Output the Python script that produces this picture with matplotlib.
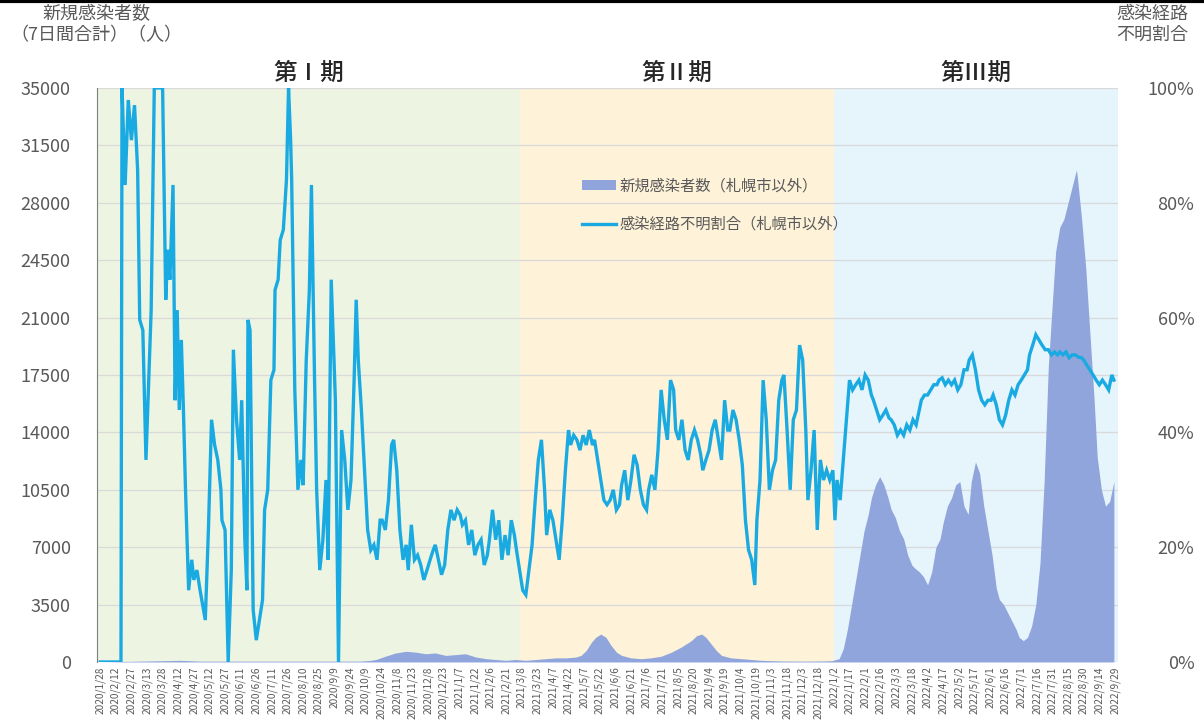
import numpy as np
import matplotlib.pyplot as plt
from matplotlib.lines import Line2D
from matplotlib.patches import Patch

plt.rcParams['font.family'] = ['Noto Sans CJK JP', 'DejaVu Sans']

# x は 2020/1/28 からの経過日数
tick_labels = [
    '2020/1/28', '2020/2/12', '2020/2/27', '2020/3/13', '2020/3/28', '2020/4/12',
    '2020/4/27', '2020/5/12', '2020/5/27', '2020/6/11', '2020/6/26', '2020/7/11',
    '2020/7/26', '2020/8/10', '2020/8/25', '2020/9/9', '2020/9/24', '2020/10/9',
    '2020/10/24', '2020/11/8', '2020/11/23', '2020/12/8', '2020/12/23', '2021/1/7',
    '2021/1/22', '2021/2/6', '2021/2/21', '2021/3/8', '2021/3/23', '2021/4/7',
    '2021/4/22', '2021/5/7', '2021/5/22', '2021/6/6', '2021/6/21', '2021/7/6',
    '2021/7/21', '2021/8/5', '2021/8/20', '2021/9/4', '2021/9/19', '2021/10/4',
    '2021/10/19', '2021/11/3', '2021/11/18', '2021/12/3', '2021/12/18', '2022/1/2',
    '2022/1/17', '2022/2/1', '2022/2/16', '2022/3/3', '2022/3/18', '2022/4/2',
    '2022/4/17', '2022/5/2', '2022/5/17', '2022/6/1', '2022/6/16', '2022/7/1',
    '2022/7/16', '2022/7/31', '2022/8/15', '2022/8/30', '2022/9/14', '2022/9/29',
]
tick_step = 15

phase_names = ['第Ⅰ期', '第Ⅱ期', '第Ⅲ期']
phase_start = [-3, 403, 705]
phase_end = [403, 705, 978]
phase_colors = ['#EEF4E2', '#FEF2D8', '#E6F4FC']

# 新規感染者数（7日間合計）
case_day = [0, 77, 96, 193, 250, 260, 265, 274, 284, 294, 303, 313, 322, 332, 342,
            351, 361, 371, 380, 390, 399, 409, 419, 428, 438, 448, 457, 462, 467,
            472, 476, 481, 486, 491, 496, 501, 510, 520, 529, 539, 549, 558, 568,
            573, 578, 582, 587, 592, 597, 606, 616, 626, 635, 645, 655, 674, 693,
            703, 710, 714, 718, 722, 726, 730, 734, 738, 741, 745, 749, 753, 757,
            760, 764, 768, 772, 776, 780, 783, 787, 791, 795, 799, 803, 807, 810,
            814, 818, 822, 826, 830, 834, 837, 841, 845, 849, 853, 857, 861, 864,
            868, 872, 876, 880, 883, 887, 891, 895, 899, 903, 907, 911, 915, 918,
            922, 926, 930, 934, 938, 939, 943, 947, 951, 955, 958, 962, 966, 970,
            974]
case_num = [0, 100, 50, 50, 50, 100, 150, 350, 550, 650, 600, 500, 550, 400, 450,
            500, 300, 200, 150, 100, 150, 100, 150, 200, 250, 250, 300, 400, 700,
            1200, 1500, 1700, 1500, 1000, 600, 400, 250, 200, 250, 350, 600, 900, 1300,
            1600, 1700, 1500, 1100, 700, 400, 250, 200, 150, 100, 80, 60, 50, 60,
            80, 200, 800, 2000, 3500, 5000, 6500, 8000, 9000, 10000, 10800, 11300, 10800, 10000,
            9300, 8800, 8000, 7500, 6500, 5900, 5700, 5500, 5200, 4700, 5500, 7000, 7500, 8500,
            9500, 10000, 10800, 11000, 9500, 9000, 11000, 12200, 11500, 9500, 8000, 6500, 4500, 3800,
            3500, 3000, 2500, 2000, 1500, 1300, 1500, 2200, 3500, 6000, 11000, 18000, 22000, 25000,
            26500, 27000, 28000, 29000, 30000, 29500, 27000, 24000, 20000, 16000, 12500, 10500, 9500, 9800,
            11000]

# 感染経路不明割合（%）
ratio_day = [0, 20, 21, 24, 27, 30, 33, 36, 38, 41, 44, 46, 49, 52, 56, 60, 63, 65, 67,
             70, 72, 74, 76, 78, 80, 82, 85, 88, 90, 93, 96, 101, 104, 107, 110, 113,
             116, 117, 120, 123, 126, 128, 131, 134, 136, 139, 141, 142, 144, 147, 150,
             153, 156, 158, 161, 164, 167, 168, 171, 173, 176, 179, 181, 183, 184, 187,
             190, 193, 195, 198, 201, 203, 206, 208, 211, 214, 217, 219, 222, 226, 229,
             232, 235, 238, 241, 244, 246, 248, 251, 254, 257, 260, 263, 266, 269, 271,
             274, 277, 280, 282, 285, 288, 291, 294, 296, 299, 302, 305, 308, 311, 314,
             317, 320, 322, 325, 328, 331, 334, 337, 340, 343, 346, 348, 351, 354, 357,
             360, 363, 366, 369, 372, 374, 377, 380, 383, 386, 389, 392, 395, 398, 400,
             403, 406, 409, 412, 415, 418, 421, 424, 427, 429, 432, 435, 438, 441, 444,
             447, 450, 452, 455, 458, 461, 464, 467, 470, 473, 475, 478, 481, 484, 487,
             490, 493, 496, 499, 501, 504, 507, 510, 513, 516, 519, 522, 525, 527, 530,
             533, 536, 539, 542, 545, 548, 551, 553, 556, 559, 562, 565, 568, 571, 574,
             577, 579, 582, 585, 588, 591, 594, 597, 600, 603, 605, 608, 611, 614, 617,
             620, 623, 626, 629, 631, 634, 637, 640, 643, 646, 649, 652, 655, 657, 660,
             663, 666, 669, 672, 675, 678, 680, 683, 686, 689, 692, 695, 698, 701, 704,
             706, 708, 711, 714, 717, 720, 723, 726, 729, 732, 735, 738, 741, 743, 746,
             749, 752, 755, 758, 760, 763, 766, 769, 772, 775, 778, 781, 784, 786, 789,
             792, 795, 798, 801, 804, 806, 809, 812, 815, 818, 821, 824, 827, 830, 833,
             835, 838, 841, 844, 847, 850, 853, 856, 858, 861, 864, 867, 870, 873, 876,
             879, 882, 885, 888, 891, 893, 896, 899, 902, 905, 908, 911, 914, 917, 920,
             922, 925, 928, 931, 934, 937, 940, 943, 945, 948, 951, 954, 957, 960, 963,
             966, 969, 972, 974]
ratio_pct = [0, 0, 100, 83.1, 97.9, 90.9, 97.0, 85.7, 59.6, 57.8, 35.2, 45.6, 61.3, 100, 100, 100, 63.1, 71.8, 66.6,
             83.1, 45.6, 61.3, 43.9, 56.1, 43.9, 30.0, 12.5, 17.8, 14.3, 16.0, 12.5, 7.3, 23.0, 42.2, 37.8, 35.2,
             30.0, 24.7, 23.0, 0, 16.0, 54.4, 42.2, 35.2, 45.6, 21.3, 12.5, 59.6, 57.8, 9.1, 3.8,
             7.3, 10.8, 26.5, 30.0, 49.1, 50.9, 64.8, 66.6, 73.5, 75.3, 84.0, 100, 90.9, 84.0, 47.4,
             30.0, 35.2, 30.8, 52.6, 64.8, 83.1, 49.1, 30.0, 16.0, 21.3, 31.7, 17.8, 66.6, 45.6, 0,
             40.4, 35.2, 26.5, 31.7, 49.1, 63.1, 52.6, 43.9, 33.4, 23.0, 19.5, 20.4, 17.8, 24.7, 24.7,
             23.0, 28.2, 37.8, 38.7, 33.4, 23.0, 17.8, 20.4, 16.0, 23.9, 17.8, 18.6, 16.9, 14.3, 16.0,
             17.8, 19.5, 20.4, 17.8, 15.2, 16.9, 23.0, 26.5, 24.7, 26.5, 25.6, 23.9, 24.7, 20.4, 23.0,
             18.6, 20.4, 21.3, 16.9, 18.6, 21.3, 26.5, 21.3, 24.7, 17.8, 22.1, 18.6, 24.7, 22.1, 19.5,
             16.0, 12.5, 11.7, 16.0, 20.4, 28.2, 35.2, 38.7, 30.0, 22.1, 26.5, 24.7, 21.3, 17.8, 24.7,
             33.4, 40.4, 37.8, 39.5, 38.7, 36.9, 39.5, 37.8, 40.4, 37.8, 38.7, 35.2, 31.7, 28.2, 27.4,
             28.2, 30.0, 26.5, 27.4, 30.8, 33.4, 28.2, 31.7, 36.1, 34.3, 30.0, 27.4, 26.5, 30.0, 32.6,
             30.0, 36.9, 47.4, 42.2, 38.7, 49.1, 47.4, 40.4, 38.7, 42.2, 36.9, 35.2, 38.7, 40.4, 38.7,
             36.1, 33.4, 35.2, 36.9, 40.4, 42.2, 38.7, 35.2, 45.6, 40.4, 40.4, 43.9, 42.2, 38.7, 34.3,
             24.7, 19.5, 17.8, 13.4, 24.7, 31.7, 49.1, 42.2, 30.0, 33.4, 35.2, 45.6, 49.1, 50.0, 40.4,
             30.0, 42.2, 43.9, 55.2, 52.6, 40.4, 28.2, 33.4, 40.4, 23.0, 35.2, 31.7, 33.4, 31.7, 33.4,
             24.7, 31.7, 28.2, 35.2, 42.2, 49.1, 47.4, 48.3, 49.1, 47.4, 50.0, 49.1, 46.5, 45.6, 43.9,
             42.2, 43.0, 43.9, 42.5, 42.2, 41.3, 39.5, 40.4, 39.5, 41.3, 40.4, 42.2, 41.3, 43.0, 45.6,
             46.5, 46.5, 47.4, 48.3, 48.3, 49.1, 49.5, 48.3, 49.1, 48.3, 49.1, 47.4, 48.3, 50.9, 50.9,
             52.6, 53.5, 50.9, 47.4, 45.6, 44.8, 45.6, 45.6, 46.5, 44.8, 42.2, 41.3, 43.0, 45.6, 47.4,
             46.5, 48.3, 49.1, 50.0, 50.9, 53.5, 55.2, 57.0, 56.1, 55.2, 54.4, 54.4, 53.5, 54.0, 53.5,
             54.0, 53.5, 54.0, 53.0, 53.5, 53.5, 53.1, 53.0, 52.6, 51.7, 50.9, 50.0, 49.1, 48.3, 49.1,
             48.3, 47.4, 50.0, 49.1]

gray = '#595959'
line_color = '#1AAAE2'
area_color = '#8FA5DC'

fig = plt.figure(figsize=(12.04, 7.28), dpi=100)
ax = fig.add_axes([0.0806, 0.0907, 0.848, 0.7885])
ax2 = ax.twinx()

for s, e, c in zip(phase_start, phase_end, phase_colors):
    ax.axvspan(s, e, color=c, lw=0, zorder=0)

ax.fill_between(case_day, case_num, color=area_color, lw=0, zorder=2)
ax2.plot(ratio_day, ratio_pct, color=line_color, lw=2.4, solid_joinstyle='miter')

ax.set_xlim(-3, 978)
ax.set_ylim(0, 35000)
ax.set_yticks(np.arange(0, 35001, 3500))
ax.yaxis.grid(True, color='#D9D9D9', lw=0.9, zorder=1)
ax.set_axisbelow(True)
ax2.set_ylim(0, 100)
ax2.set_yticks(range(0, 101, 20))
ax2.set_yticklabels([f'{v}%' for v in range(0, 101, 20)])

ax.set_xticks(np.arange(len(tick_labels)) * tick_step)
ax.set_xticklabels(tick_labels, rotation=90, fontsize=7.3, color=gray)

for a in (ax, ax2):
    for sp in a.spines.values():
        sp.set_visible(False)
    a.tick_params(length=0)
ax.spines['left'].set_visible(True)
ax.spines['left'].set_color('#7F7F7F')
ax.tick_params(axis='y', labelsize=13, labelcolor=gray, pad=19)
ax2.tick_params(axis='y', labelsize=13, labelcolor=gray, pad=55)
ax.tick_params(axis='x', pad=3)
for t in ax2.get_yticklabels():
    t.set_horizontalalignment('right')

for name, s, e in zip(phase_names, phase_start, phase_end):
    ax.text((s + e) / 2, 1.005, name, transform=ax.get_xaxis_transform(),
            ha='center', va='bottom', fontsize=17, fontweight='medium', color='#262626')

fig.text(96 / 1204, 1 - 5 / 728, '新規感染者数\n（7日間合計）（人）', ha='center', va='top',
         fontsize=13, color=gray, linespacing=1.2)
fig.text(1152 / 1204, 1 - 5 / 728, '感染経路\n不明割合', ha='center', va='top',
         fontsize=13, color=gray, linespacing=1.2)

handles = [Patch(color=area_color, lw=0), Line2D([], [], color=line_color, lw=2.4)]
labels = ['新規感染者数（札幌市以外）', '感染経路不明割合（札幌市以外）']
ax2.legend(handles, labels, loc='upper left', bbox_to_anchor=(0.462, 0.868), frameon=False,
           fontsize=11, labelcolor=gray, handlelength=2.2, handletextpad=0.2, labelspacing=1.4)

fig.add_artist(Line2D([0, 1], [0.998, 0.998], color='black', lw=3))

fig.savefig('out.png', dpi=100)
